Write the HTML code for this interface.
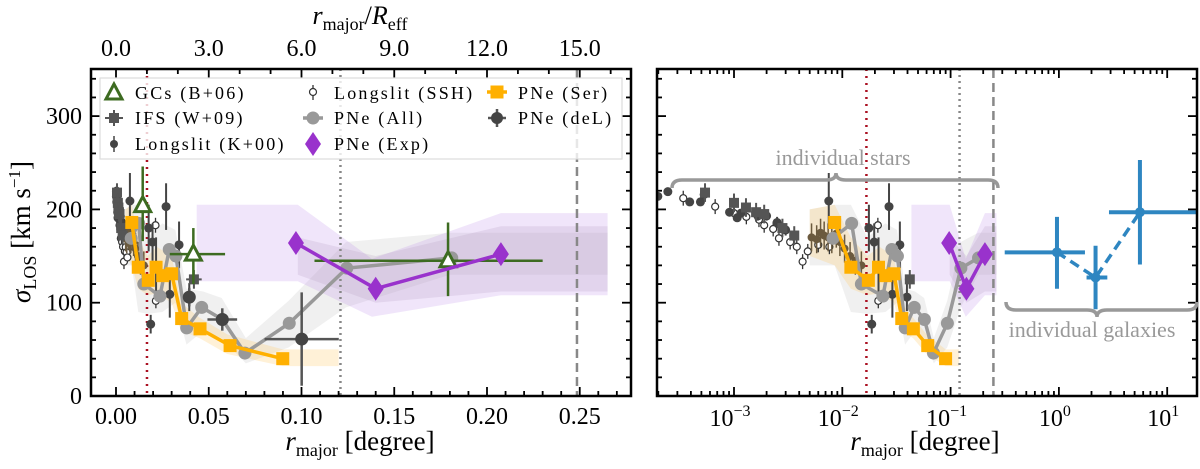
<!DOCTYPE html>
<html><head><meta charset="utf-8">
<style>
html,body{margin:0;padding:0;background:#fff;}
svg{display:block;font-family:"Liberation Serif",serif;}
</style></head>
<body>
<svg id="chart" width="1200" height="469" viewBox="0 0 1200 469" xmlns="http://www.w3.org/2000/svg">
<defs>
<clipPath id="clipL"><rect x="91" y="69" width="540" height="327"/></clipPath>
<clipPath id="clipR"><rect x="657" y="69" width="540" height="327"/></clipPath>
</defs>
<g id="bandsL" clip-path="url(#clipL)"></g>
<g id="bandsR" clip-path="url(#clipR)"></g>
<g id="linesL" clip-path="url(#clipL)"></g>
<g id="linesR" clip-path="url(#clipR)"></g>
<g id="marksL" clip-path="url(#clipL)"></g>
<g id="marksR" clip-path="url(#clipR)"></g>
<g id="axes"></g>
<g id="legend">
<rect x="100" y="78" width="522" height="81" fill="#fff" fill-opacity="0.8" stroke="#ddd" stroke-width="1.2"/>
</g>
<text x="843" y="165" font-size="22" fill="#999" text-anchor="middle">individual stars</text>
<path d="M672,188 Q672,180 682,180 L826,180 Q836,180 836,173 Q836,180 846,180 L988,180 Q998,180 998,188" fill="none" stroke="#999" stroke-width="3.5"/>
<path d="M1006,302 Q1006,310 1016,310 L1087,310 Q1097,310 1097,317 Q1097,310 1107,310 L1187,310 Q1197,310 1197,302" fill="none" stroke="#999" stroke-width="3.5"/>
<text x="1092" y="337" font-size="22" fill="#999" text-anchor="middle">individual galaxies</text>
<text x="360" y="450" font-size="27" text-anchor="middle"><tspan font-style="italic">r</tspan><tspan font-size="18" dy="6">major</tspan><tspan dy="-6"> [degree]</tspan></text>
<text x="925" y="450" font-size="27" text-anchor="middle"><tspan font-style="italic">r</tspan><tspan font-size="18" dy="6">major</tspan><tspan dy="-6"> [degree]</tspan></text>
<text x="360" y="24" font-size="26" text-anchor="middle"><tspan font-style="italic">r</tspan><tspan font-size="18" dy="6">major</tspan><tspan dy="-6">/</tspan><tspan font-style="italic">R</tspan><tspan font-size="18" dy="6">eff</tspan></text>
<text transform="translate(30,232) rotate(-90)" font-size="27" text-anchor="middle"><tspan font-style="italic">σ</tspan><tspan font-size="18" dy="6">LOS</tspan><tspan dy="-6"> [km s</tspan><tspan font-size="17" dy="-10">−1</tspan><tspan dy="10">]</tspan></text>
</svg>
<script>
// ---------- data ----------
const serX = [0.0085,0.012,0.0174,0.0216,0.0252,0.030,0.0354,0.0453,0.0615,0.0899];
const serY = [186,138,124,138,129,131,83,72,54,40];
const allX = [0.0082,0.0122,0.015,0.0237,0.0287,0.0323,0.0381,0.0462,0.0573,0.0695,0.0934,0.1244,0.181];
const allY = [169,185,120,107,157,150,73,95,82,46,78,137,148];
const expX = [0.097,0.140,0.2075];
const expY = [164,115,152];
const delX = [0.0395,0.0573,0.1001];
const delY = [106,82,61];
const delXerr = [0.002,0.008,0.02];
const delYerr = [10,12,50];
const gcX = [0.0144,0.0417,0.179];
const gcY = [204,152,145];
const gcXlo = [0.0144,0.029,0.107];
const gcXhi = [0.0144,0.0588,0.23];
const gcYlo = [166,120,107];
const gcYhi = [246,180,186];
const ifsX = [0.00054,0.001,0.00129,0.0016,0.0019,0.0028,0.0036,0.042];
const ifsY = [218,207,202,197,195,180,172,125];
const k00X = [0.000198,0.000245,0.00039,0.00049,0.00053,0.00091,0.00107,0.00116,0.00166,0.002,0.0025,0.003,0.0075,0.0176,0.0197,0.027,0.034,0.0187,0.029,0.0216,0.0395];
const k00Y = [214,219,208,208,216,197,191,196,193,193,186,178,209,180,165,203,162,77,109,140,106];
const k00Err = [3,3,3,3,3,4,4,4,5,5,6,6,30,25,20,25,25,10,25,30,15];
const sshX = [0.00034,0.00067,0.001,0.0013,0.0017,0.0019,0.0023,0.0026,0.0033,0.0038,0.0043,0.0048,0.006,0.0076,0.0213,0.0215];
const sshY = [212,203,196,192,189,183,179,169,165,160,144,155,162,160,183,102];
const brX = [0.0052,0.0058,0.0063,0.0068,0.0074,0.0080,0.0088,0.0095,0.0105,0.0118,0.0132,0.0150];
const brY = [170,168,175,172,170,168,174,165,158,150,145,140];
const galX = [0.96,2.18,5.6];
const galY = [154,127,197];
const galXlo = [0.316,1.8,2.9];
const galXhi = [1.74,2.8,19];
const galYlo = [115,93,141];
const galYhi = [192,161,253];
const serBand = [[0.005,150,200],[0.0085,140,205],[0.012,115,170],[0.017,108,150],[0.022,110,160],[0.03,100,150],[0.035,70,100],[0.045,62,84],[0.06,45,66],[0.09,32,50],[0.12,32,50]];
const allBand = [[0.005,140,200],[0.0085,140,205],[0.012,90,205],[0.017,88,170],[0.025,90,185],[0.032,100,178],[0.038,55,115],[0.047,70,112],[0.057,62,105],[0.07,35,62],[0.093,52,102],[0.124,95,165],[0.18,130,175],[0.265,130,175]];
const expBand = [[0.0435,123,205],[0.098,123,205],[0.138,85,147],[0.2075,108,196],[0.265,108,196]];
const expBandInner = [[0.098,130,170],[0.14,100,150],[0.2075,112,182],[0.265,112,182]];
const yTicks = [0,100,200,300];
const xTicksL = [0,0.05,0.10,0.15,0.20,0.25];
const xTickLabelsL = ["0.00","0.05","0.10","0.15","0.20","0.25"];
const topTicks = [0,3,6,9,12,15];
const topTickLabels = ["0.0","3.0","6.0","9.0","12.0","15.0"];
const decades = [-3,-2,-1,0,1];
const vlines = [0.0167,0.121,0.2485];

// ---------- scales ----------
const NS="http://www.w3.org/2000/svg";
const Y0=396, YS=0.933;
const y=v=>Y0-YS*v;
const xL=v=>116+1855*v;
const xR=v=>734+108.3*(Math.log10(v)+3);
const REFF=0.05/3;
function mk(tag,attrs,parent){const e=document.createElementNS(NS,tag);for(const k in attrs)e.setAttribute(k,attrs[k]);parent.appendChild(e);return e;}
const G=id=>document.getElementById(id);

function drawPanel(fx,bands,lines,marks,side){
  function band(arr,fill,op,name){
    let pts=arr.map(p=>fx(p[0])+","+y(p[2]));
    pts=pts.concat(arr.slice().reverse().map(p=>fx(p[0])+","+y(p[1])));
    const e=mk("polygon",{points:pts.join(" "),fill:fill,"fill-opacity":op},bands);
    
    
  }
  band(allBand,"#cccccc",0.3,"pne-all-band");
  band(serBand,"#ffd27a",0.3,"pne-ser-band");
  band(expBand,"#b987e6",0.22,"pne-exp-band");
  band(expBandInner,"#a58bb0",0.18,"pne-exp-band-inner");
  const vs=[["#aa1122","2,5","red-reff-line"],["#888","2,4","gray-dotted-line"],["#888","9,5","gray-dashed-line"]];
  vlines.forEach((v,i)=>{
    const e=mk("line",{x1:fx(v),x2:fx(v),y1:69,y2:396,stroke:vs[i][0],"stroke-width":2.5,"stroke-dasharray":vs[i][1]},lines);
    
    
  });
  function vbar(x,y1,y2,c,w){mk("line",{x1:x,x2:x,y1:y1,y2:y2,stroke:c,"stroke-width":w},marks);}
  function hbar(x1,x2,yy,c,w){mk("line",{x1:x1,x2:x2,y1:yy,y2:yy,stroke:c,"stroke-width":w},marks);}
  sshX.forEach((v,i)=>{
    vbar(fx(v),y(sshY[i]-8),y(sshY[i]+8),"#333",1.3);
    const e=mk("circle",{cx:fx(v),cy:y(sshY[i]),r:3.5,fill:"#fff",stroke:"#333","stroke-width":1.2},marks);
    
    
  });
  if(side==="L"){
    for(let i=0;i<14;i++){
      const e=mk("circle",{cx:fx(0.0003+i*0.00045),cy:y(220-i*5.5),r:3.5,fill:"#fff",stroke:"#333","stroke-width":1.2},marks);
      
      
    }
  }
  brX.forEach((v,i)=>{
    vbar(fx(v),y(brY[i]-15),y(brY[i]+15),"#6b5a3e",1.5);
    const e=mk("circle",{cx:fx(v),cy:y(brY[i]),r:4,fill:"#6b5a3e"},marks);
    
    
  });
  k00X.forEach((v,i)=>{
    vbar(fx(v),y(k00Y[i]-k00Err[i]),y(k00Y[i]+k00Err[i]),"#444",2);
    const e=mk("circle",{cx:fx(v),cy:y(k00Y[i]),r:4.5,fill:"#444"},marks);
    
    
  });
  ifsX.forEach((v,i)=>{
    hbar(fx(v*0.9),fx(v*1.1),y(ifsY[i]),"#555",2);
    vbar(fx(v),y(ifsY[i]-10),y(ifsY[i]+10),"#555",2);
    const e=mk("rect",{x:fx(v)-5,y:y(ifsY[i])-5,width:10,height:10,fill:"#555"},marks);
    
    
  });
  let p=allX.map((v,i)=>fx(v)+","+y(allY[i])).join(" ");
  let e=mk("polyline",{points:p,fill:"none",stroke:"#999","stroke-width":3.5},marks);
  
  
  allX.forEach((v,i)=>{
    const c=mk("circle",{cx:fx(v),cy:y(allY[i]),r:6.5,fill:"#999"},marks);
    
    
  });
  if(side==="L"){
    delX.forEach((v,i)=>{
      hbar(fx(v-delXerr[i]),fx(v+delXerr[i]),y(delY[i]),"#555",2.5);
      vbar(fx(v),y(delY[i]-delYerr[i]),y(delY[i]+delYerr[i]),"#555",2.5);
      const c=mk("circle",{cx:fx(v),cy:y(delY[i]),r:6.5,fill:"#444"},marks);
      
      
    });
    gcX.forEach((v,i)=>{
      if(gcXhi[i]>gcXlo[i]) hbar(fx(gcXlo[i]),fx(gcXhi[i]),y(gcY[i]),"#3d6b21",2.5);
      vbar(fx(v),y(gcYlo[i]),y(gcYhi[i]),"#3d6b21",2.5);
      const cx=fx(v),cy=y(gcY[i]);
      const t=mk("polygon",{points:`${cx},${cy-9} ${cx-8},${cy+6} ${cx+8},${cy+6}`,fill:"#fff",stroke:"#3d6b21","stroke-width":3},marks);
      
      
    });
  }
  p=serX.map((v,i)=>fx(v)+","+y(serY[i])).join(" ");
  e=mk("polyline",{points:p,fill:"none",stroke:"#ffb000","stroke-width":3.5},marks);
  
  
  serX.forEach((v,i)=>{
    const r=mk("rect",{x:fx(v)-6.5,y:y(serY[i])-6.5,width:13,height:13,fill:"#ffb000"},marks);
    
    
  });
  p=expX.map((v,i)=>fx(v)+","+y(expY[i])).join(" ");
  e=mk("polyline",{points:p,fill:"none",stroke:"#9932cc","stroke-width":3.5},marks);
  
  
  expX.forEach((v,i)=>{
    const cx=fx(v),cy=y(expY[i]);
    const d=mk("polygon",{points:`${cx},${cy-12} ${cx+8},${cy} ${cx},${cy+12} ${cx-8},${cy}`,fill:"#9932cc"},marks);
    
    
  });
  if(side==="R"){
    p=galX.map((v,i)=>fx(v)+","+y(galY[i])).join(" ");
    e=mk("polyline",{points:p,fill:"none",stroke:"#2e86c1","stroke-width":3.5,"stroke-dasharray":"10,6"},marks);
    
    
    galX.forEach((v,i)=>{
      hbar(fx(galXlo[i]),fx(galXhi[i]),y(galY[i]),"#2e86c1",4);
      vbar(fx(v),y(galYlo[i]),y(galYhi[i]),"#2e86c1",4);
      const c=mk("circle",{cx:fx(v),cy:y(galY[i]),r:5,fill:"#2e86c1"},marks);
      
      
    });
  }
}
drawPanel(xL,G("bandsL"),G("linesL"),G("marksL"),"L");
drawPanel(xR,G("bandsR"),G("linesR"),G("marksR"),"R");

// ---------- axes ----------
const ax=G("axes");
function tick(x1,y1,x2,y2){mk("line",{x1:x1,y1:y1,x2:x2,y2:y2,stroke:"#000","stroke-width":1.8},ax);}
function txt(x,yy,s,anchor,name){const t=mk("text",{x:x,y:yy,"font-size":24,"text-anchor":anchor},ax);t.textContent=s;return t;}
[[91,631],[657,1197]].forEach(([a,b],pi)=>{
  const f=mk("rect",{x:a,y:69,width:b-a,height:327,fill:"none",stroke:"#000","stroke-width":2.5},ax);
  
  
  for(let v=0;v<=340;v+=20){
    const yy=y(v);const L=(v%100===0)?9:5;
    tick(a,yy,a+L,yy);tick(b,yy,b-L,yy);
  }
});
yTicks.forEach(v=>txt(82,y(v)+8,String(v),"end","y-tick-label"));
for(let v=0;v<=0.275;v+=0.01){const xx=xL(v);if(xx<91||xx>631)continue;const L=(Math.round(v*100)%5===0)?9:5;tick(xx,396,xx,396-L);}
xTicksL.forEach((v,i)=>txt(xL(v),424,xTickLabelsL[i],"middle","x-tick-label"));
for(let r=0;r<=16;r+=1){const xx=xL(r*REFF);if(xx>631)continue;const L=(r%3===0)?9:5;tick(xx,69,xx,69+L);}
topTicks.forEach((v,i)=>txt(xL(v*REFF),56,topTickLabels[i],"middle","top-tick-label"));
for(let d=-4;d<=1;d++){for(let m=1;m<10;m++){const v=m*Math.pow(10,d);const xx=xR(v);if(xx<657||xx>1197)continue;const L=m===1?9:5;tick(xx,396,xx,396-L);tick(xx,69,xx,69+L);}}
decades.forEach(dd=>{const t=mk("text",{x:xR(Math.pow(10,dd))-4,y:426,"font-size":24,"text-anchor":"middle"},ax);
  
  
  const a=mk("tspan",{},t);a.textContent="10";const s=mk("tspan",{"font-size":16,dy:-10},t);s.textContent=String(dd).replace("-","−");});

// ---------- legend ----------
const lg=G("legend");
function lt(x,yy,s,name){const t=mk("text",{x:x,y:yy,"font-size":18,"letter-spacing":"2.2"},lg);t.textContent=s;}
let cx=114;
mk("polygon",{points:`${cx},84 ${cx-8},99 ${cx+8},99`,fill:"#fff",stroke:"#3d6b21","stroke-width":3},lg);
lt(135,99,"GCs (B+06)","legend-gcs");
mk("line",{x1:cx-9,x2:cx+9,y1:118,y2:118,stroke:"#555","stroke-width":2},lg);
mk("line",{x1:cx,x2:cx,y1:110,y2:126,stroke:"#555","stroke-width":2},lg);
mk("rect",{x:cx-5,y:113,width:10,height:10,fill:"#555"},lg);
lt(135,124,"IFS (W+09)","legend-ifs");
mk("line",{x1:cx,x2:cx,y1:136,y2:152,stroke:"#444","stroke-width":1.5},lg);
mk("circle",{cx:cx,cy:144,r:4,fill:"#444"},lg);
lt(135,150,"Longslit (K+00)","legend-longslit-k00");
cx=313;
mk("line",{x1:cx,x2:cx,y1:85,y2:100,stroke:"#333","stroke-width":1.3},lg);
mk("circle",{cx:cx,cy:92,r:3.5,fill:"#fff",stroke:"#333","stroke-width":1.2},lg);
lt(334,99,"Longslit (SSH)","legend-longslit-ssh");
mk("line",{x1:cx-10,x2:cx+10,y1:118,y2:118,stroke:"#999","stroke-width":3.5},lg);
mk("circle",{cx:cx,cy:118,r:6.5,fill:"#999"},lg);
lt(334,124,"PNe (All)","legend-pne-all");
mk("polygon",{points:`${cx},132 ${cx+8},144 ${cx},156 ${cx-8},144`,fill:"#9932cc"},lg);
lt(334,150,"PNe (Exp)","legend-pne-exp");
cx=497;
mk("line",{x1:cx-10,x2:cx+10,y1:92,y2:92,stroke:"#ffb000","stroke-width":3.5},lg);
mk("rect",{x:cx-6.5,y:85.5,width:13,height:13,fill:"#ffb000"},lg);
lt(518,99,"PNe (Ser)","legend-pne-ser");
mk("line",{x1:cx-9,x2:cx+9,y1:118,y2:118,stroke:"#555","stroke-width":2.5},lg);
mk("line",{x1:cx,x2:cx,y1:109,y2:127,stroke:"#555","stroke-width":2.5},lg);
mk("circle",{cx:cx,cy:118,r:6,fill:"#444"},lg);
lt(518,124,"PNe (deL)","legend-pne-del");
</script>
</body></html>
